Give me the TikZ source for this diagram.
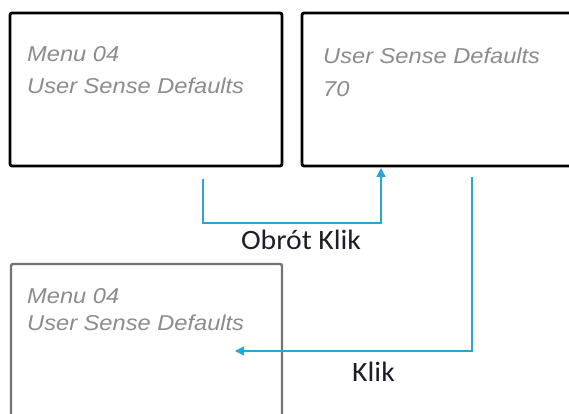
\documentclass[tikz,border=0pt]{standalone}
\usepackage{fontspec}
\usetikzlibrary{arrows.meta}
\newfontfamily\boxfont[FakeStretch=1.1]{Liberation Sans}
\newfontfamily\lblfont[FakeStretch=1.06]{Carlito}
\definecolor{conncol}{HTML}{2AA4D4}
\definecolor{txtgray}{HTML}{8C8C8C}
\definecolor{lblcol}{HTML}{1E1E28}
\tikzset{
  screen/.style={draw=black, line width=2.8pt, rounded corners=2pt, inner sep=0pt},
  screenlight/.style={draw=black!55, line width=2.4pt, rounded corners=2pt, inner sep=0pt},
  boxtxt/.style={anchor=base west, inner sep=0pt, text=txtgray, font=\boxfont\itshape\fontsize{21.5}{24}\selectfont},
  conn/.style={draw=conncol, line width=1.5pt, -{Triangle[length=9pt,width=9pt]}},
  lbl/.style={anchor=base, inner sep=0pt, text=lblcol, font=\lblfont\fontsize{28}{32}\selectfont}
}
\begin{document}
\begin{tikzpicture}[x=1pt,y=1pt]
\useasboundingbox (0,0) rectangle (569,414);
\clip (0,0) rectangle (569,414);
\fill[white] (0,0) rectangle (569,414);
% screens
\node[screen, minimum width=272pt, minimum height=153pt] (A) at (146,324.5) {};
\node[screen, minimum width=278pt, minimum height=153pt] (B) at (441,324.5) {};
\node[screenlight, minimum width=271pt, minimum height=161pt] (C) at (146.5,69.5) {};
% screen texts
\node[boxtxt] (a1) at (27,352) {Menu 04};
\node[boxtxt] (a2) at (27,320) {User Sense Defaults};
\node[boxtxt] (b1) at (323,350) {User Sense Defaults};
\node[boxtxt] (b2) at (323,317) {70};
\node[boxtxt] (c1) at (27,110) {Menu 04};
\node[boxtxt] (c2) at (27,83) {User Sense Defaults};
% connectors
\coordinate (s1) at (203,235);
\coordinate (k1) at (203,191);
\coordinate (t1) at (381,246);
\draw[conn] (s1) -- (k1) -| (t1);
\coordinate (s2) at (472,237);
\coordinate (k2) at (472,63);
\coordinate (t2) at (235,63);
\draw[conn] (s2) -- (k2) -- (t2);
% labels
\node[lbl] (l1) at (301,164) {Obrót Klik};
\node[lbl] (l2) at (373.5,32) {Klik};
\end{tikzpicture}
\end{document}
